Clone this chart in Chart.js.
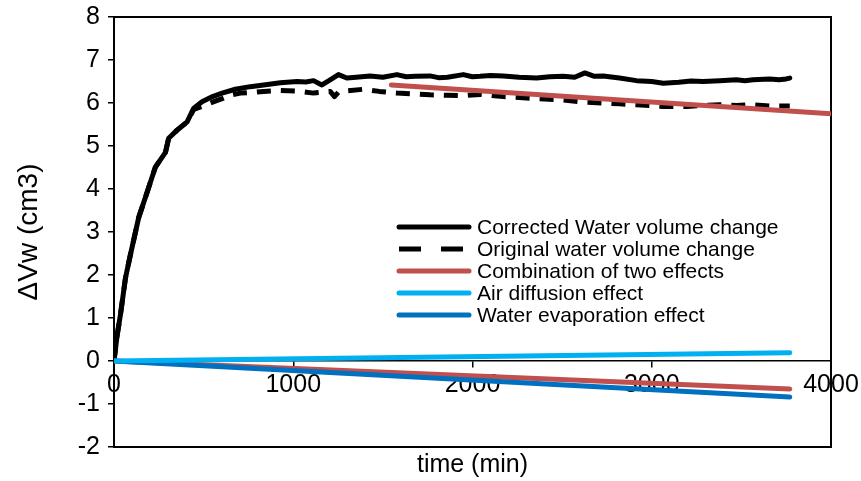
<!DOCTYPE html>
<html>
<head>
<meta charset="utf-8">
<script src="https://cdn.jsdelivr.net/npm/chart.js@4"></script>
<style>
  body { margin: 0; background: #fff; }
  #wrap { width: 861px; height: 481px; }
</style>
</head>
<body>
<div id="wrap"><canvas id="chart"></canvas></div>
<script>
// time (min) and water volume change (cm3)
const corrTime = [0, 18, 36, 64, 92, 138, 194, 231, 287, 305, 352, 408, 445, 491, 550, 603, 677, 760, 835, 928, 1021, 1070, 1113, 1160, 1206, 1252, 1299, 1350, 1429, 1500, 1578, 1630, 1680, 1763, 1810, 1860, 1949, 2000, 2042, 2100, 2172, 2260, 2358, 2430, 2506, 2570, 2627, 2680, 2729, 2820, 2915, 3000, 3064, 3150, 3220, 3286, 3379, 3472, 3520, 3565, 3658, 3710, 3750, 3770];
const corrValues = [0, 0.61, 1.08, 1.93, 2.48, 3.34, 4.04, 4.51, 4.85, 5.18, 5.37, 5.56, 5.88, 6.03, 6.15, 6.23, 6.32, 6.38, 6.42, 6.47, 6.5, 6.49, 6.52, 6.42, 6.54, 6.66, 6.58, 6.6, 6.63, 6.6, 6.66, 6.61, 6.62, 6.63, 6.59, 6.6, 6.66, 6.61, 6.62, 6.64, 6.63, 6.6, 6.58, 6.61, 6.62, 6.6, 6.7, 6.62, 6.63, 6.58, 6.52, 6.5, 6.46, 6.48, 6.51, 6.5, 6.52, 6.54, 6.52, 6.54, 6.56, 6.54, 6.56, 6.58];

const origTime = [0, 18, 36, 64, 92, 138, 194, 231, 287, 305, 352, 408, 445, 491, 550, 603, 649, 705, 780, 835, 928, 1021, 1113, 1160, 1206, 1230, 1252, 1299, 1392, 1480, 1578, 1680, 1763, 1860, 1949, 2042, 2172, 2260, 2358, 2506, 2627, 2729, 2820, 2915, 3064, 3194, 3286, 3379, 3472, 3565, 3658, 3750, 3770];
const origValues = [0, 0.61, 1.08, 1.93, 2.48, 3.34, 4.04, 4.51, 4.85, 5.18, 5.37, 5.56, 5.85, 5.92, 6.02, 6.1, 6.18, 6.23, 6.25, 6.27, 6.29, 6.28, 6.23, 6.25, 6.27, 6.15, 6.25, 6.28, 6.32, 6.27, 6.23, 6.21, 6.19, 6.18, 6.17, 6.2, 6.15, 6.13, 6.1, 6.07, 6.02, 6.0, 5.98, 5.96, 5.92, 5.92, 5.94, 5.96, 5.94, 5.96, 5.93, 5.93, 5.93];

const combTopTime = [1547, 4000];
const combTopValues = [6.42, 5.75];
const effectTime = [0, 3770];
const combValues = [0, -0.65];
const airValues = [0, 0.19];
const evapValues = [0, -0.84];

const xTicks = [0, 1000, 2000, 3000, 4000];

const pts = (t, v) => t.map((x, i) => ({ x: x, y: v[i] }));

const legendItems = [
  { label: "Corrected Water volume change", color: "#000000", dash: [] },
  { label: "Original water volume change", color: "#000000", dash: [22, 20] },
  { label: "Combination of two effects", color: "#C0504D", dash: [] },
  { label: "Air diffusion effect", color: "#00B0F0", dash: [] },
  { label: "Water evaporation effect", color: "#0070C0", dash: [] },
];

const legendPlugin = {
  id: "boxLegend",
  afterDatasetsDraw(chart) {
    const ctx = chart.ctx;
    const rows = [227, 249, 271, 293, 315];
    ctx.save();
    ctx.font = "21px 'Liberation Sans', Arial, sans-serif";
    ctx.textBaseline = "middle";
    legendItems.forEach((item, i) => {
      ctx.strokeStyle = item.color;
      ctx.lineWidth = 5;
      ctx.lineCap = item.dash.length ? "butt" : "round";
      ctx.setLineDash(item.dash);
      ctx.beginPath();
      ctx.moveTo(399, rows[i]);
      ctx.lineTo(469, rows[i]);
      ctx.stroke();
      ctx.setLineDash([]);
      ctx.fillStyle = "#000";
      ctx.fillText(item.label, 477, rows[i] + 1);
    });
    ctx.restore();
  },
};

const family = "'Liberation Sans', Arial, sans-serif";
const tickFont = { family: family, size: 25 };
const line = (color, width) => ({
  borderColor: color,
  borderWidth: width,
  pointRadius: 0,
  tension: 0,
  fill: false,
  borderCapStyle: "round",
  borderJoinStyle: "round",
});

new Chart(document.getElementById("chart"), {
  type: "line",
  data: {
    datasets: [
      { label: "Corrected Water volume change", data: pts(corrTime, corrValues), ...line("#000000", 5), order: 5 },
      { label: "Original water volume change", data: pts(origTime, origValues), ...line("#000000", 5), borderDash: [14, 10], borderCapStyle: "butt", order: 4 },
      { label: "Combination of two effects", data: pts(combTopTime, combTopValues), ...line("#C0504D", 5), order: 3 },
      { label: "Combination of two effects", data: pts(effectTime, combValues), ...line("#C0504D", 5), order: 3 },
      { label: "Water evaporation effect", data: pts(effectTime, evapValues), ...line("#0070C0", 5), order: 2 },
      { label: "Air diffusion effect", data: pts(effectTime, airValues), ...line("#00B0F0", 5), order: 1 },
    ],
  },
  options: {
    responsive: true,
    maintainAspectRatio: false,
    animation: false,
    devicePixelRatio: 1,
    layout: { padding: 0 },
    plugins: { legend: { display: false }, tooltip: { enabled: false } },
    scales: {
      x: {
        type: "linear",
        position: { y: 0 },
        min: 0,
        max: 4000,
        afterBuildTicks: (s) => { s.ticks = xTicks.map((v) => ({ value: v })); },
        ticks: { color: "#000", font: tickFont, padding: 3, maxRotation: 0, autoSkip: false, callback: (v) => String(v) },
        grid: { drawOnChartArea: false, tickLength: 6, color: "#000", lineWidth: 1.5 },
        border: { color: "#000", width: 1.5 },
        afterFit: (s) => { s.paddingLeft = 0; s.paddingRight = 0; },
      },
      xBottom: {
        type: "linear",
        position: "bottom",
        min: 0,
        max: 4000,
        ticks: { display: false },
        grid: { display: false },
        border: { color: "#000", width: 2 },
        title: { display: true, text: "time (min)", color: "#000", font: tickFont, padding: { top: 0, bottom: 1 } },
        afterFit: (s) => { s.height = 34; },
      },
      xTop: {
        type: "linear",
        position: "top",
        min: 0,
        max: 4000,
        ticks: { display: false },
        grid: { display: false },
        border: { color: "#000", width: 2 },
        afterFit: (s) => { s.height = 17; },
      },
      y: {
        position: "left",
        min: -2,
        max: 8,
        ticks: { stepSize: 1, color: "#000", font: tickFont, padding: 8 },
        grid: { drawOnChartArea: false, tickLength: 6, color: "#000", lineWidth: 1.5 },
        border: { color: "#000", width: 2 },
        title: { display: true, text: "\u0394Vw (cm3)", color: "#000", font: { family: family, size: 28 }, padding: { top: 12, bottom: 0 } },
        afterFit: (s) => { s.width = 114; s.paddingTop = 0; s.paddingBottom = 0; },
      },
      yRight: {
        position: "right",
        min: -2,
        max: 8,
        ticks: { display: false },
        grid: { display: false },
        border: { color: "#000", width: 2 },
        afterFit: (s) => { s.width = 30; },
      },
    },
  },
  plugins: [legendPlugin],
});
</script>
</body>
</html>
